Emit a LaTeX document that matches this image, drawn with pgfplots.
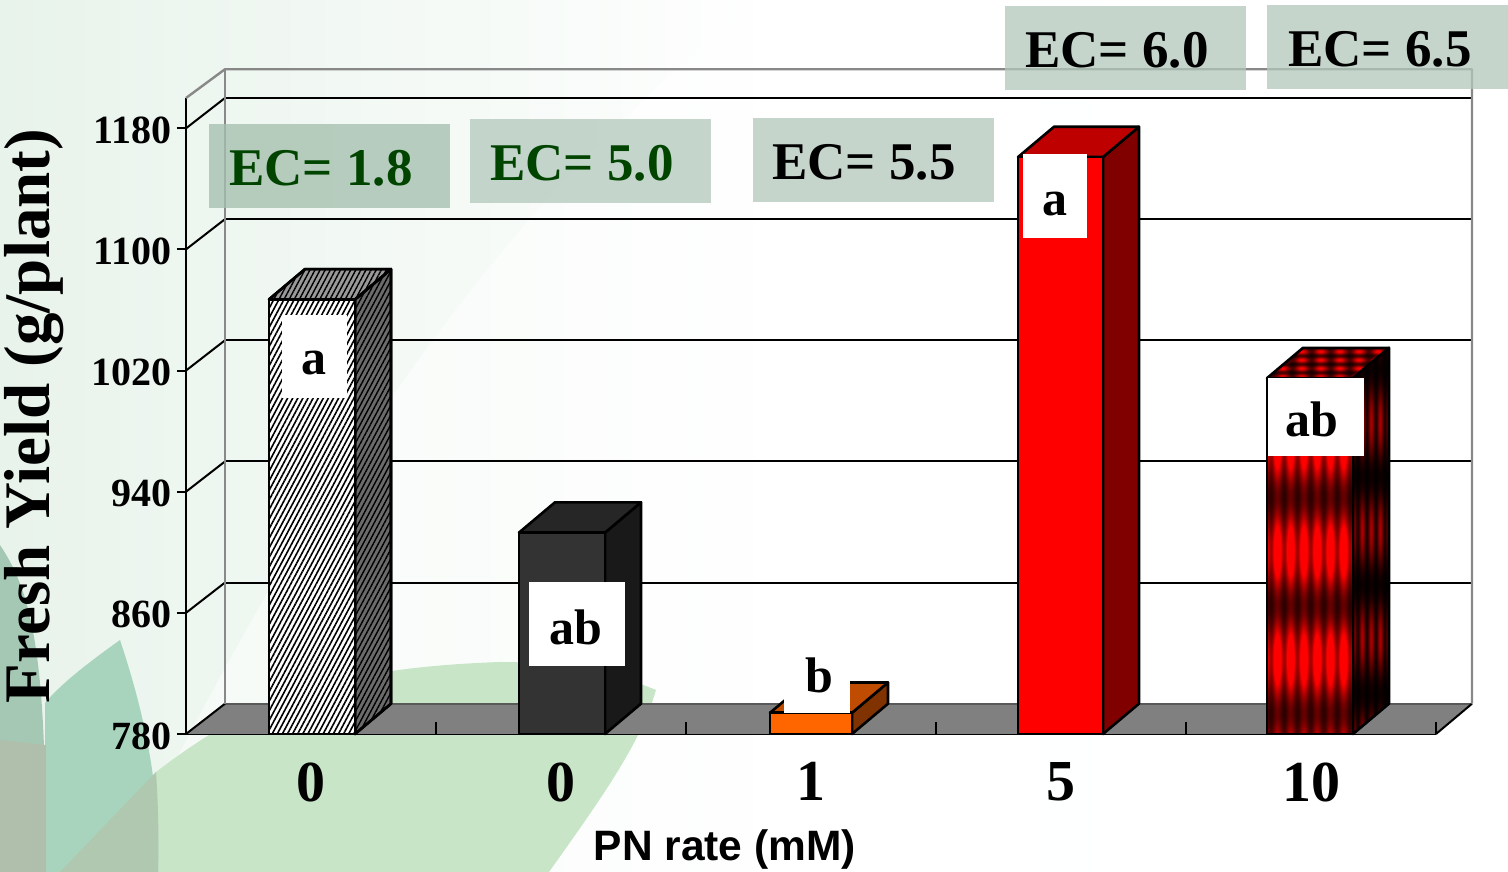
\documentclass[border=0pt]{standalone}
\usepackage{fontspec}
\usepackage{pgfplots}
\pgfplotsset{compat=1.18}
\usetikzlibrary{patterns.meta}
\setmainfont{Liberation Serif}
\newfontfamily\headsans{Liberation Sans}
\definecolor{floorgray}{RGB}{128,128,128}
\definecolor{wallgray}{RGB}{136,136,136}
\definecolor{ecbox}{RGB}{178,200,188}
\definecolor{ecboxdeep}{RGB}{165,192,175}
\definecolor{ecgreen}{RGB}{0,68,0}
\definecolor{paleleft}{RGB}{232,243,235}
\definecolor{bigleaf}{RGB}{200,229,200}
\definecolor{tealleaf}{RGB}{168,212,190}
\definecolor{darkleaf}{RGB}{165,200,180}
\definecolor{greyleaf}{RGB}{176,190,172}
\definecolor{overlapleaf}{RGB}{176,200,176}
\newcommand{\px}[1]{\fontsize{#1}{#1}\selectfont\bfseries}

% red textures of the last bar: front, side and top faces
\pgfdeclarefunctionalshading{barfront}{\pgfpointorigin}{\pgfpoint{100bp}{100bp}}{}{
  43.1 sub 23.7 mul cos -0.52 mul 0.92 add
  exch 30.9 sub 46.8 mul cos 0.28 mul 0.72 add
  mul 0 0
}
\pgfdeclarefunctionalshading{barside}{\pgfpointorigin}{\pgfpoint{100bp}{100bp}}{}{
  30.3 sub 25.7 mul cos -0.3 mul 0.36 add
  exch 28.8 mul cos 0.4 mul 0.6 add
  mul 0 0
}
\pgfdeclarefunctionalshading{bartop}{\pgfpointorigin}{\pgfpoint{100bp}{100bp}}{}{
  26 mul cos 0.35 mul 0.65 add
  exch 46 mul cos 0.35 mul 0.65 add
  mul 0 0
}

\begin{document}
\begin{tikzpicture}[x=1pt,y=1pt]
\clip (0,0) rectangle (1508,872);
% slide background
\begin{scope}[shift={(0,872)},yscale=-1]
  \shade[left color=paleleft, right color=white, middle color=white!96!paleleft] (0,0) rectangle (1508,872);
  \fill[white,opacity=.5] (120,872) .. controls (300,500) and (500,200) .. (760,0) -- (1508,0) -- (1508,872) -- cycle;
  % leaves
  \fill[bigleaf] (156,772) .. controls (250,700) and (330,668) .. (500,662)
     .. controls (570,662) and (620,675) .. (656,690)
     .. controls (640,745) and (600,800) .. (549,872) -- (100,872) -- cycle;
  \fill[tealleaf] (120,640) .. controls (85,665) and (60,685) .. (45,703)
     -- (45,872) -- (158,872) .. controls (160,800) and (150,730) .. (120,640) -- cycle;
  \fill[overlapleaf] (156,772) -- (60,872) -- (158,872) .. controls (159,835) and (158,800) .. (156,772) -- cycle;
  \fill[darkleaf] (0,545) .. controls (30,590) and (48,650) .. (45,872) -- (0,872) -- cycle;
  \fill[greyleaf] (0,740) -- (46,745) -- (46,872) -- (0,872) -- cycle;
\end{scope}

\begin{axis}[
  at={(186pt,138pt)}, anchor=south west,
  scale only axis, width=1250pt, height=636pt,
  xmin=0, xmax=5, ymin=780, ymax=1200,
  clip=false,
  axis lines=left,
  axis line style={-, line width=2.6pt, black},
  tick align=outside,
  major tick length=9pt,
  tick style={line width=2pt, black},
  x tick style={draw=none},
  xtick={0.5,1.5,2.5,3.5,4.5},
  xticklabels={0,0,1,5,10},
  ytick={780,860,940,1020,1100,1180},
  /pgf/number format/assume math mode=true,
  /pgf/number format/1000 sep={},
  yticklabel style={font=\px{40}, xshift=-2pt, yshift=-2pt},
  xticklabel style={font=\px{58}, yshift=-16pt},
  xlabel={\headsans PN rate (mM)},
  xlabel style={font=\px{42.5}, at={(axis description cs:0.431,-0.182)}, anchor=center},
  ylabel={Fresh Yield (g/plant)},
  ylabel style={font=\px{65}, at={(axis description cs:-0.1216,0.5)}, anchor=center},
  every axis plot/.append style={line join=round},
]
% floor
\addplot[fill=floorgray, draw=none] coordinates {(0,780)(0.156,800)(5.144,800)(5,780)} --cycle;
\addplot[line width=2pt, color=black!65] coordinates {(0.156,800)(5.144,800)};
% back wall grid
\addplot[line width=2pt, black] coordinates {(0.156,880)(5.144,880)};
\addplot[line width=2pt, black] coordinates {(0.156,960)(5.144,960)};
\addplot[line width=2pt, black] coordinates {(0.156,1040)(5.144,1040)};
\addplot[line width=2pt, black] coordinates {(0.156,1120)(5.144,1120)};
\addplot[line width=2pt, black] coordinates {(0.156,1200)(5.144,1200)};
% side wall grid
\addplot[line width=2pt, black] coordinates {(0,780)(0.156,800)};
\addplot[line width=2pt, black] coordinates {(0,860)(0.156,880)};
\addplot[line width=2pt, black] coordinates {(0,940)(0.156,960)};
\addplot[line width=2pt, black] coordinates {(0,1020)(0.156,1040)};
\addplot[line width=2pt, black] coordinates {(0,1100)(0.156,1120)};
\addplot[line width=2pt, black] coordinates {(0,1180)(0.156,1200)};
\addplot[line width=2pt, black] coordinates {(5,780)(5.144,800)};
% wall frame
\addplot[line width=2.4pt, wallgray] coordinates {(0,1200)(0.156,1219)(5.144,1219)(5.144,800)};
\addplot[line width=2.4pt, wallgray] coordinates {(0.156,1219)(0.156,800)};
% x ticks standing on the floor
\addplot[line width=2pt, black] coordinates {(1,780)(1,788)};
\addplot[line width=2pt, black] coordinates {(2,780)(2,788)};
\addplot[line width=2pt, black] coordinates {(3,780)(3,788)};
\addplot[line width=2pt, black] coordinates {(4,780)(4,788)};
\addplot[line width=2pt, black] coordinates {(5,780)(5,788)};

% bar 1, hatched
\addplot[line width=2.6pt, black, fill=gray!55!black!80!white, postaction={pattern={Lines[angle=62,distance=4.5pt,line width=1.4pt]}, pattern color=black}]
  coordinates {(0.676,780)(0.82,800)(0.82,1087)(0.676,1067)} --cycle;
\addplot[line width=2.6pt, black, fill=gray!80!white, postaction={pattern={Lines[angle=62,distance=4.5pt,line width=1.4pt]}, pattern color=black}]
  coordinates {(0.332,1067)(0.476,1087)(0.82,1087)(0.676,1067)} --cycle;
\addplot[line width=2.6pt, black, fill=white, postaction={pattern={Lines[angle=62,distance=4.5pt,line width=1.6pt]}, pattern color=black}]
  coordinates {(0.332,780)(0.332,1067)(0.676,1067)(0.676,780)} --cycle;
% bar 2
\addplot[line width=2.6pt, black, fill=black!90] coordinates {(1.676,780)(1.82,800)(1.82,933)(1.676,913)} --cycle;
\addplot[line width=2.6pt, black, fill=black!85] coordinates {(1.332,913)(1.476,933)(1.82,933)(1.676,913)} --cycle;
\addplot[line width=2.6pt, black, fill=black!80] coordinates {(1.332,780)(1.332,913)(1.676,913)(1.676,780)} --cycle;
% bar 3
\addplot[line width=2.6pt, black, fill={rgb,255:red,128;green,51;blue,0}] coordinates {(2.664,780)(2.808,800)(2.808,814)(2.664,794)} --cycle;
\addplot[line width=2.6pt, black, fill={rgb,255:red,191;green,76;blue,0}] coordinates {(2.336,794)(2.48,814)(2.808,814)(2.664,794)} --cycle;
\addplot[line width=2.6pt, black, fill={rgb,255:red,255;green,102;blue,0}] coordinates {(2.336,780)(2.336,794)(2.664,794)(2.664,780)} --cycle;
% bar 4
\addplot[line width=2.6pt, black, fill={rgb,255:red,128;green,0;blue,0}] coordinates {(3.668,780)(3.812,800)(3.812,1181)(3.668,1161)} --cycle;
\addplot[line width=2.6pt, black, fill={rgb,255:red,191;green,0;blue,0}] coordinates {(3.328,1161)(3.472,1181)(3.812,1181)(3.668,1161)} --cycle;
\addplot[line width=2.6pt, black, fill=red] coordinates {(3.328,780)(3.328,1161)(3.668,1161)(3.668,780)} --cycle;
% bar 5, textured
\addplot[line width=2.6pt, black, shade, shading=barside] coordinates {(4.668,780)(4.812,800)(4.812,1035)(4.668,1015)} --cycle;
\addplot[line width=2.6pt, black, shade, shading=bartop] coordinates {(4.324,1015)(4.468,1035)(4.812,1035)(4.668,1015)} --cycle;
\addplot[line width=2.6pt, black, shade, shading=barfront] coordinates {(4.324,780)(4.324,1015)(4.668,1015)(4.668,780)} --cycle;
\end{axis}

% significance letters and salinity captions
\begin{scope}[shift={(0,872)},yscale=-1]
  \foreach \xa/\ya/\xb/\yb/\txt in {282/315/347/398/a, 529/582/625/666/ab, 784/630/850/713/b, 1023/154/1087/238/a, 1268/378/1364/456/ab}{
    \fill[white] (\xa,\ya) rectangle (\xb,\yb);
  }
  \node[font=\px{50}] at (314,363) {a};
  \node[font=\px{50}] at (576,627) {ab};
  \node[font=\px{50}] at (819,675) {b};
  \node[font=\px{50}] at (1055,204) {a};
  \node[font=\px{50}] at (1312,419) {ab};

  \fill[ecboxdeep,opacity=.78] (209,124) rectangle ++(241,84);
  \foreach \xa/\ya in {470/119, 753/118, 1005/6, 1267/5}{
    \fill[ecbox,opacity=.75] (\xa,\ya) rectangle ++(241,84);
  }
  \node[font=\px{53}, text=ecgreen] at (321,168) {EC= 1.8};
  \node[font=\px{53}, text=ecgreen] at (582,163) {EC= 5.0};
  \node[font=\px{53}, text=black] at (864,162) {EC= 5.5};
  \node[font=\px{53}, text=black] at (1117,50) {EC= 6.0};
  \node[font=\px{53}, text=black] at (1380,49) {EC= 6.5};
\end{scope}
\end{tikzpicture}
\end{document}
